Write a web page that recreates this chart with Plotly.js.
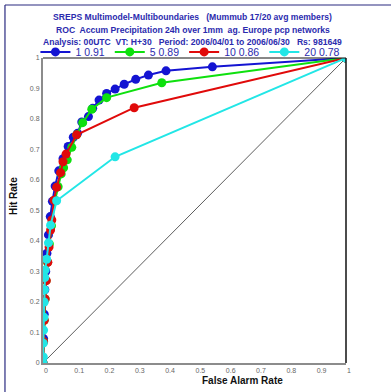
<!DOCTYPE html>
<html>
<head>
<meta charset="utf-8">
<script src="https://cdn.plot.ly/plotly-3.0.1.min.js"></script>
<style>html,body{margin:0;padding:0;background:#fff;}#chart{width:391px;height:392px;}</style>
</head>
<body>
<div id="chart"></div>
<script>
// Series names (threshold, ROC area)
const seriesNames = ["1 0.91", "5 0.89", "10 0.86", "20 0.78"];
const seriesColors = ["#1414d2", "#0ee00e", "#e00a0a", "#22e6e6"];

// False alarm rate / hit rate per series
const far1 = [0, 0.002, 0.004, 0.006, 0.009, 0.013, 0.018, 0.024, 0.031, 0.040, 0.052, 0.066, 0.083, 0.100, 0.114, 0.128, 0.150, 0.164, 0.185, 0.210, 0.238, 0.268, 0.306, 0.348, 0.406, 0.559, 1];
const hr1  = [0, 0.08, 0.16, 0.24, 0.30, 0.36, 0.42, 0.48, 0.53, 0.58, 0.63, 0.67, 0.71, 0.74, 0.753, 0.79, 0.808, 0.835, 0.862, 0.884, 0.898, 0.914, 0.930, 0.944, 0.958, 0.971, 1];

const far5 = [0, 0.002, 0.004, 0.007, 0.010, 0.015, 0.021, 0.028, 0.040, 0.050, 0.060, 0.068, 0.080, 0.095, 0.111, 0.131, 0.161, 0.210, 0.392, 1];
const hr5  = [0, 0.07, 0.14, 0.21, 0.27, 0.33, 0.39, 0.45, 0.534, 0.578, 0.620, 0.640, 0.666, 0.707, 0.748, 0.788, 0.832, 0.870, 0.919, 1];

const far10 = [0, 0.002, 0.004, 0.007, 0.011, 0.016, 0.020, 0.025, 0.029, 0.036, 0.045, 0.058, 0.066, 0.076, 0.111, 0.301, 1];
const hr10  = [0, 0.07, 0.14, 0.21, 0.27, 0.33, 0.38, 0.436, 0.469, 0.534, 0.576, 0.624, 0.660, 0.685, 0.748, 0.837, 1];

const far20 = [0, 0.001, 0.001, 0.002, 0.003, 0.004, 0.005, 0.006, 0.007, 0.012, 0.018, 0.025, 0.045, 0.238, 1];
const hr20  = [0, 0.02, 0.065, 0.108, 0.15, 0.20, 0.24, 0.28, 0.305, 0.34, 0.394, 0.452, 0.532, 0.676, 1];

const diagX = [0, 1];
const diagY = [0, 1];

const tickVals = [0, 0.1, 0.2, 0.3, 0.4, 0.5, 0.6, 0.7, 0.8, 0.9, 1];
const tickText = ["0", "0.1", "0.2", "0.3", "0.4", "0.5", "0.6", "0.7", "0.8", "0.9", "1"];

const titleLines = [
  "SREPS Multimodel-Multiboundaries   (Mummub 17/20 avg members)",
  "ROC  Accum Precipitation 24h over 1mm  ag. Europe pcp networks",
  "Analysis: 00UTC  VT: H+30   Period: 2006/04/01 to 2006/06/30   Rs: 981649"
];

const xs = [far1, far5, far10, far20];
const ys = [hr1, hr5, hr10, hr20];

const traces = [{
  x: diagX, y: diagY, mode: "lines", showlegend: false, hoverinfo: "skip",
  line: {color: "#333333", width: 0.8}
}];
for (let i = 0; i < seriesNames.length; i++) {
  traces.push({
    x: xs[i], y: ys[i], name: seriesNames[i], mode: "lines+markers",
    line: {color: seriesColors[i], width: 2},
    marker: {color: seriesColors[i], size: 9, line: {width: 0}}
  });
}

const blue = "#2b2bae";
const layout = {
  width: 391, height: 392,
  margin: {l: 43, r: 45, t: 58, b: 29, pad: 0},
  paper_bgcolor: "#ffffff", plot_bgcolor: "#ffffff",
  font: {family: "Arial, Liberation Sans, sans-serif"},
  showlegend: true,
  legend: {
    orientation: "h", x: -0.025, xanchor: "left", y: 1.02, yanchor: "middle",
    font: {size: 10.5, color: blue}, bgcolor: "rgba(0,0,0,0)",
    itemwidth: 30, tracegroupgap: 0, borderwidth: 0
  },
  xaxis: {
    range: [0, 1], fixedrange: true, showgrid: false, zeroline: false,
    showline: true, linecolor: "#8c8c8c", linewidth: 2,
    tickvals: tickVals, ticktext: tickText, ticks: "", ticklabelposition: "outside right",
    tickfont: {size: 7, color: "#666666"}, ticklabelstandoff: 0
  },
  yaxis: {
    range: [0, 1], fixedrange: true, showgrid: false, zeroline: false,
    showline: true, linecolor: "#8c8c8c", linewidth: 2,
    tickvals: tickVals, ticktext: tickText, ticks: "",
    tickfont: {size: 7, color: "#666666"}, ticklabelstandoff: 0
  },
  shapes: [
    {type: "line", xref: "paper", yref: "paper", x0: 0, x1: 1, y0: 1, y1: 1, line: {color: "#111111", width: 1}},
    {type: "line", xref: "paper", yref: "paper", x0: 1, x1: 1, y0: 0, y1: 1, line: {color: "#111111", width: 1.5}},
    {type: "line", xref: "paper", yref: "paper", x0: -0.1255, x1: 1.15, y0: 1.1737, y1: 1.1737, line: {color: "#2a2a80", width: 1.2}},
    {type: "line", xref: "paper", yref: "paper", x0: -0.1255, x1: -0.1255, y0: -0.1, y1: 1.1737, line: {color: "#2a2a80", width: 1.2}}
  ],
  annotations: [
    {text: "<b>" + titleLines[0] + "</b>", xref: "paper", yref: "paper", x: 0.495, y: 1.135, showarrow: false, font: {size: 8.6, color: blue}, xanchor: "center", yanchor: "middle"},
    {text: "<b>" + titleLines[1] + "</b>", xref: "paper", yref: "paper", x: 0.495, y: 1.093, showarrow: false, font: {size: 8.6, color: blue}, xanchor: "center", yanchor: "middle"},
    {text: "<b>" + titleLines[2] + "</b>", xref: "paper", yref: "paper", x: 0.495, y: 1.051, showarrow: false, font: {size: 8.6, color: blue}, xanchor: "center", yanchor: "middle"},
    {text: "<b>False Alarm Rate</b>", xref: "paper", yref: "paper", x: 0.66, y: -0.058, showarrow: false, font: {size: 10, color: "#111111"}, xanchor: "center", yanchor: "middle"},
    {text: "<b>Hit Rate</b>", xref: "paper", yref: "paper", x: -0.095, y: 0.548, showarrow: false, textangle: -90, font: {size: 10, color: "#111111"}, xanchor: "center", yanchor: "middle"}
  ]
};

Plotly.newPlot("chart", traces, layout, {displayModeBar: false, staticPlot: true});
</script>
</body>
</html>
